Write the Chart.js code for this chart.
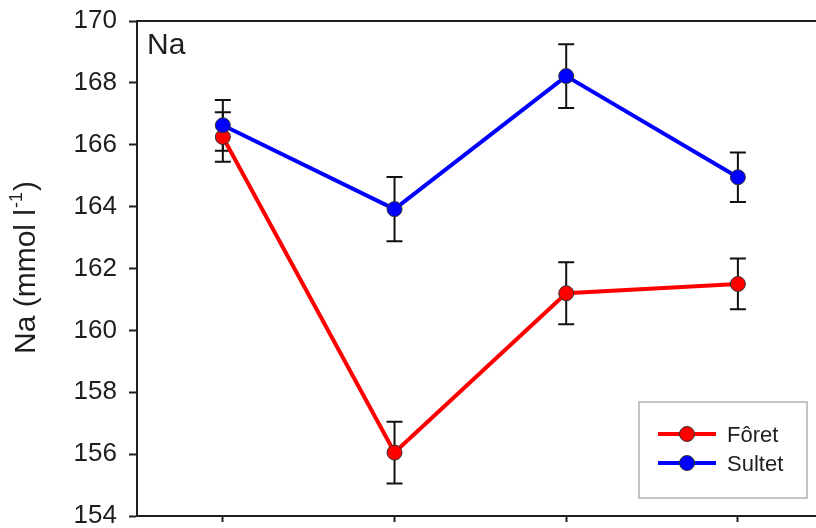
<!DOCTYPE html>
<html>
<head>
<meta charset="utf-8">
<script src="https://cdn.jsdelivr.net/npm/chart.js@4.4.1/dist/chart.umd.min.js"></script>
<style>
  html, body { margin: 0; padding: 0; background: #fff; overflow: hidden; }
  canvas { display: block; }
</style>
</head>
<body>
<canvas id="naChart" width="816" height="528"></canvas>
<script>
// sampling occasions (x positions) and Na means with their error bars
const occasions = [1, 2, 3, 4];
const foretNa = [166.25, 156.05, 161.2, 161.5];
const foretErr = [0.8, 1.0, 1.0, 0.82];
const sultetNa = [166.63, 163.92, 168.22, 164.95];
const sultetErr = [0.82, 1.04, 1.03, 0.8];
const yTicks = [154, 156, 158, 160, 162, 164, 166, 168, 170];

const FONT = '"Liberation Sans", Arial, sans-serif';
const INK = '#1e1e1e';

function toPoints(vals) {
    return occasions.map((x, i) => ({ x: x, y: vals[i] }));
}

// error bars go under the markers, the frame top line and labels on top
const extras = {
    id: 'extras',
    beforeDatasetsDraw(chart) {
        const ctx = chart.ctx;
        const xs = chart.scales.x, ys = chart.scales.y;
        ctx.save();
        ctx.strokeStyle = '#111';
        ctx.lineWidth = 2;
        chart.data.datasets.forEach(ds => {
            ds.data.forEach((p, i) => {
                const x = xs.getPixelForValue(p.x);
                const top = ys.getPixelForValue(p.y + ds.err[i]);
                const bot = ys.getPixelForValue(p.y - ds.err[i]);
                ctx.beginPath();
                ctx.moveTo(x, top); ctx.lineTo(x, bot);
                ctx.moveTo(x - 8, top); ctx.lineTo(x + 8, top);
                ctx.moveTo(x - 8, bot); ctx.lineTo(x + 8, bot);
                ctx.stroke();
            });
        });
        ctx.restore();
    },
    afterDraw(chart) {
        const ctx = chart.ctx;
        const a = chart.chartArea;
        ctx.save();
        // top frame line
        ctx.strokeStyle = INK;
        ctx.lineWidth = 2;
        ctx.beginPath();
        ctx.moveTo(a.left - 1, a.top);
        ctx.lineTo(chart.width, a.top);
        ctx.stroke();

        // panel label
        ctx.fillStyle = INK;
        ctx.font = '30px ' + FONT;
        ctx.textBaseline = 'alphabetic';
        ctx.textAlign = 'left';
        ctx.fillText('Na', a.left + 10, a.top + 33);

        // y axis title with superscript unit
        ctx.translate(17, (a.top + a.bottom) / 2);
        ctx.rotate(-Math.PI / 2);
        ctx.font = '30px ' + FONT;
        const main = 'Na (mmol l';
        const sup = '-1';
        const close = ')';
        const wMain = ctx.measureText(main).width;
        const wClose = ctx.measureText(close).width;
        ctx.font = '18px ' + FONT;
        const wSup = ctx.measureText(sup).width;
        let x0 = -(wMain + wSup + wClose) / 2;
        ctx.textBaseline = 'middle';
        ctx.font = '30px ' + FONT;
        ctx.fillText(main, x0, 10);
        ctx.font = '18px ' + FONT;
        ctx.fillText(sup, x0 + wMain + 1, 0);
        ctx.font = '30px ' + FONT;
        ctx.fillText(close, x0 + wMain + wSup + 2, 10);
        ctx.restore();

        // legend box
        ctx.save();
        const bx = 639, by = 402, bw = 168, bh = 96;
        ctx.fillStyle = '#fff';
        ctx.fillRect(bx, by, bw, bh);
        ctx.strokeStyle = '#c4c4c4';
        ctx.lineWidth = 2;
        ctx.strokeRect(bx, by, bw, bh);
        const rows = [chart.data.datasets[1], chart.data.datasets[0]];
        rows.forEach((ds, k) => {
            const y = by + 32 + k * 29;
            ctx.strokeStyle = ds.borderColor;
            ctx.lineWidth = 4;
            ctx.beginPath();
            ctx.moveTo(bx + 19, y);
            ctx.lineTo(bx + 77, y);
            ctx.stroke();
            ctx.beginPath();
            ctx.arc(bx + 48, y, 7.5, 0, Math.PI * 2);
            ctx.fillStyle = ds.pointBackgroundColor;
            ctx.fill();
            ctx.lineWidth = 1;
            ctx.strokeStyle = '#333';
            ctx.stroke();
            ctx.fillStyle = INK;
            ctx.font = '22px ' + FONT;
            ctx.textBaseline = 'middle';
            ctx.textAlign = 'left';
            ctx.fillText(ds.label, bx + 88, y + 2);
        });
        ctx.restore();
    }
};

new Chart(document.getElementById('naChart'), {
    type: 'line',
    data: {
        datasets: [
            {
                label: 'Sultet',
                data: toPoints(sultetNa),
                err: sultetErr,
                borderColor: '#0000ff',
                borderWidth: 4,
                pointBackgroundColor: '#0000ff',
                pointBorderColor: '#333',
                pointBorderWidth: 1,
                pointRadius: 7.5,
                order: 0
            },
            {
                label: 'Fôret',
                data: toPoints(foretNa),
                err: foretErr,
                borderColor: '#ff0000',
                borderWidth: 4,
                pointBackgroundColor: '#ff0000',
                pointBorderColor: '#333',
                pointBorderWidth: 1,
                pointRadius: 7.5,
                order: 1
            }
        ]
    },
    options: {
        responsive: false,
        animation: false,
        layout: { autoPadding: false, padding: { top: 21, right: 0, bottom: 0, left: 0 } },
        plugins: { legend: { display: false }, tooltip: { enabled: false } },
        scales: {
            x: {
                type: 'linear',
                min: 0.5,
                max: 4.455,
                afterBuildTicks: s => { s.ticks = occasions.map(v => ({ value: v })); },
                afterFit: s => { s.height = 12; s.paddingLeft = 0; s.paddingRight = 0; },
                ticks: { display: false },
                grid: { drawOnChartArea: false, tickLength: 6, tickWidth: 2, tickColor: INK },
                border: { display: true, color: INK, width: 2 }
            },
            y: {
                min: 154,
                max: 170,
                afterBuildTicks: s => { s.ticks = yTicks.map(v => ({ value: v })); },
                afterFit: s => { s.width = 137; s.paddingTop = 0; s.paddingBottom = 0; },
                ticks: {
                    color: INK,
                    padding: 12,
                    font: { family: FONT, size: 26 }
                },
                grid: { drawOnChartArea: false, tickLength: 8, tickWidth: 2, tickColor: INK },
                border: { display: true, color: INK, width: 2 }
            }
        }
    },
    plugins: [extras]
});
</script>
</body>
</html>
